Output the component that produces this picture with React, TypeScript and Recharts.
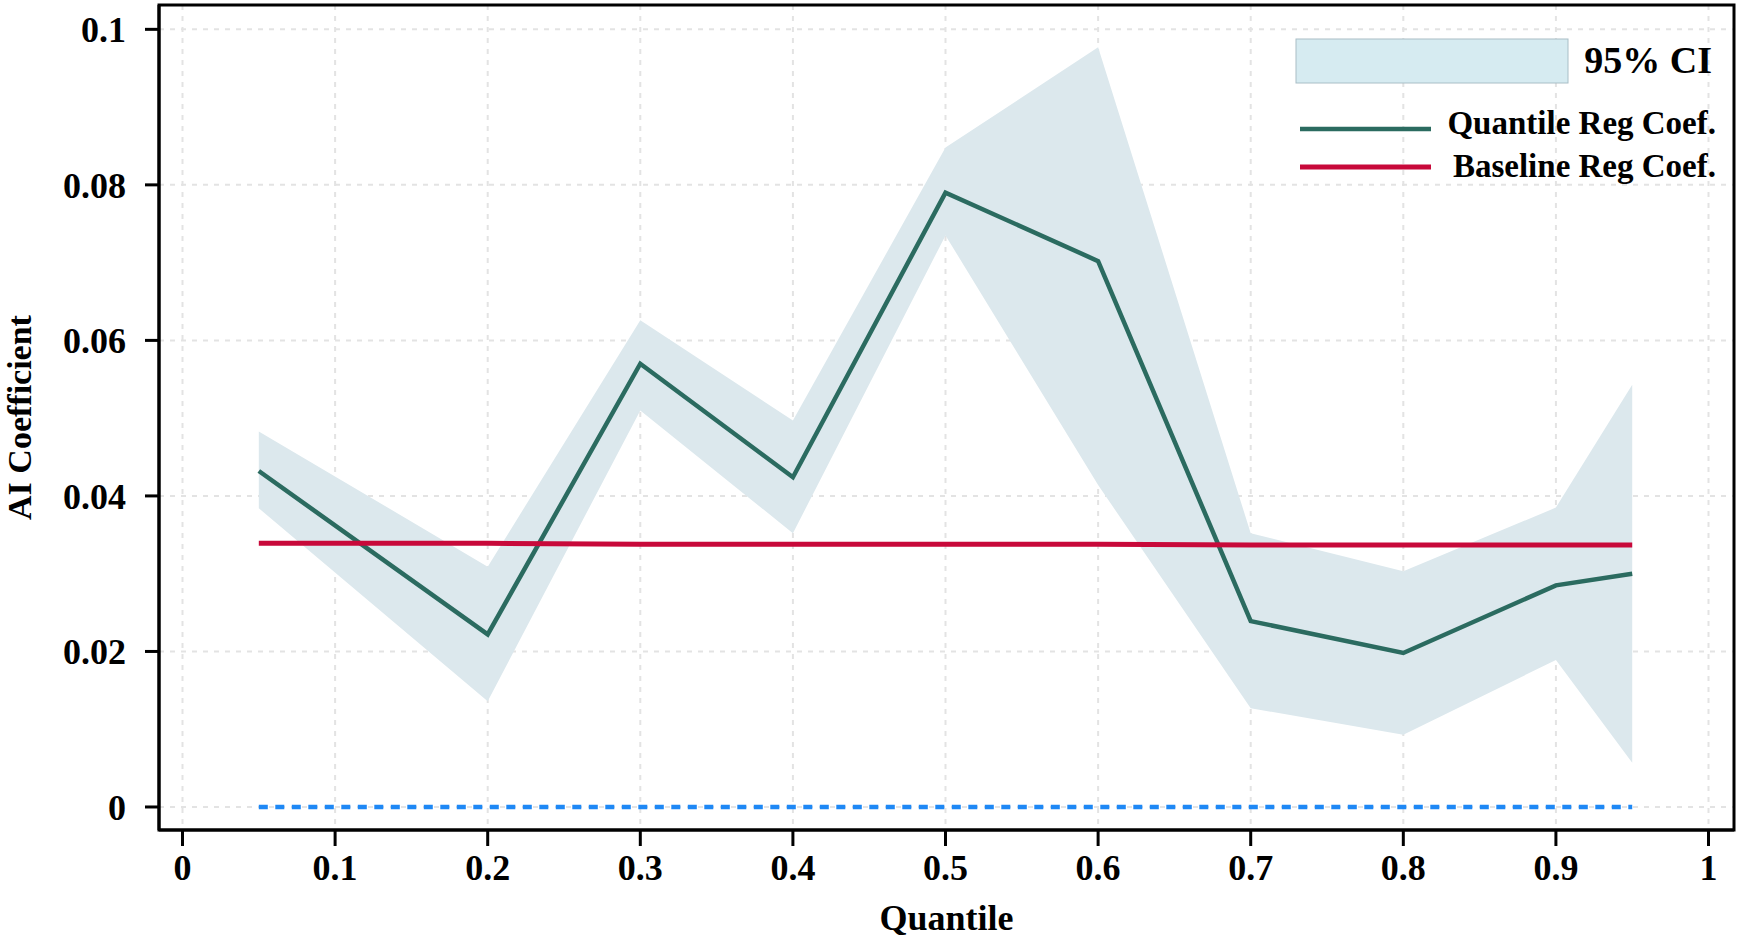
import React from 'react';
import {
  ComposedChart,
  Area,
  Line,
  XAxis,
  YAxis,
  CartesianGrid,
  Legend,
  ReferenceArea,
} from 'recharts';

const quantiles = [0.05, 0.2, 0.3, 0.4, 0.5, 0.6, 0.7, 0.8, 0.9, 0.95];
const quantileCoef = [0.0432, 0.0222, 0.057, 0.0424, 0.079, 0.0702, 0.0239, 0.0198, 0.0285, 0.03];
const ciUpper = [0.0483, 0.0309, 0.0626, 0.0497, 0.0848, 0.0977, 0.0352, 0.0303, 0.0385, 0.0543];
const ciLower = [0.0384, 0.0136, 0.051, 0.0352, 0.0735, 0.0414, 0.0127, 0.0093, 0.0189, 0.0057];
const baselineCoef = [0.0339, 0.0339, 0.0338, 0.0338, 0.0338, 0.0338, 0.0337, 0.0337, 0.0337, 0.0337];
const zeroRef = [0, 0, 0, 0, 0, 0, 0, 0, 0, 0];

const xTicks = [0, 0.1, 0.2, 0.3, 0.4, 0.5, 0.6, 0.7, 0.8, 0.9, 1];
const yTicks = [0, 0.02, 0.04, 0.06, 0.08, 0.1];
const xDomain: [number, number] = [-0.0154, 1.0167];
const yDomain: [number, number] = [-0.00296, 0.10313];

const data = quantiles.map((q, i) => ({
  q,
  coef: quantileCoef[i],
  ci: [ciLower[i], ciUpper[i]],
  base: baselineCoef[i],
  zero: zeroRef[i],
}));

const FONT = '"Liberation Serif", "Times New Roman", serif';
const TEAL = '#2b6b60';
const RED = '#c8093a';
const BLUE = '#1e88f5';

const tickStyle = { fill: '#000', fontSize: 36, fontWeight: 'bold' as const, fontFamily: FONT };

const renderLegend = () => (
  <svg width={460} height={160} style={{ fontFamily: FONT, fontWeight: 'bold' }}>
    <rect x={16} y={9} width={272} height={44} fill="#d6ebf1" stroke="#a9bec6" strokeWidth={1} />
    <text x={432} y={43} textAnchor="end" fontSize={38} fill="#000">95% CI</text>
    <line x1={20} x2={151} y1={99} y2={99} stroke={TEAL} strokeWidth={4.5} />
    <text x={436} y={104} textAnchor="end" fontSize={33} fill="#000">Quantile Reg Coef.</text>
    <line x1={20} x2={151} y1={137} y2={137} stroke={RED} strokeWidth={5} />
    <text x={436} y={147} textAnchor="end" fontSize={33} fill="#000">Baseline Reg Coef.</text>
  </svg>
);

const YTitle = (props: any) => {
  const vb = props.viewBox || { x: 0, y: 5, width: 159, height: 825 };
  const cx = 31;
  const cy = vb.y + vb.height / 2;
  return (
    <text
      x={cx}
      y={cy}
      transform={`rotate(-90, ${cx}, ${cy})`}
      textAnchor="middle"
      fontSize={34}
      fontWeight="bold"
      fontFamily={FONT}
      fill="#000"
    >
      AI Coefficient
    </text>
  );
};

const XTitle = (props: any) => {
  const vb = props.viewBox || { x: 159, y: 830, width: 1575, height: 114 };
  return (
    <text
      x={vb.x + vb.width / 2}
      y={vb.y + 100}
      textAnchor="middle"
      fontSize={36}
      fontWeight="bold"
      fontFamily={FONT}
      fill="#000"
    >
      Quantile
    </text>
  );
};

export default function App() {
  return (
    <div style={{ position: 'absolute', left: 0, top: 0, width: 1741, height: 944, background: '#fff' }}>
      <ComposedChart
        width={1741}
        height={944}
        data={data}
        margin={{ top: 5, right: 7, left: 0, bottom: 0 }}
      >
        <CartesianGrid stroke="#e3e3e3" strokeWidth={2} strokeDasharray="5 6" />
        <XAxis
          dataKey="q"
          type="number"
          domain={xDomain}
          ticks={xTicks}
          allowDataOverflow
          height={114}
          tickSize={16}
          tickMargin={8}
          tick={tickStyle}
          axisLine={{ stroke: '#000', strokeWidth: 3 }}
          tickLine={{ stroke: '#000', strokeWidth: 3 }}
          label={XTitle}
        />
        <YAxis
          type="number"
          domain={yDomain}
          ticks={yTicks}
          allowDataOverflow
          width={159}
          tickSize={14}
          tickMargin={19}
          tick={tickStyle}
          axisLine={{ stroke: '#000', strokeWidth: 3 }}
          tickLine={{ stroke: '#000', strokeWidth: 3 }}
          label={YTitle}
        />
        <Area
          dataKey="ci"
          type="linear"
          fill="#dce8ed"
          fillOpacity={1}
          stroke="none"
          isAnimationActive={false}
          activeDot={false}
        />
        <Line
          dataKey="zero"
          type="linear"
          stroke={BLUE}
          strokeWidth={4.5}
          strokeDasharray="9 7.5"
          dot={false}
          activeDot={false}
          isAnimationActive={false}
        />
        <Line
          dataKey="coef"
          type="linear"
          stroke={TEAL}
          strokeWidth={4.5}
          dot={false}
          activeDot={false}
          isAnimationActive={false}
        />
        <Line
          dataKey="base"
          type="linear"
          stroke={RED}
          strokeWidth={5}
          dot={false}
          activeDot={false}
          isAnimationActive={false}
        />
        <ReferenceArea
          x1={xDomain[0]}
          x2={xDomain[1]}
          y1={yDomain[0]}
          y2={yDomain[1]}
          fill="none"
          fillOpacity={0}
          stroke="#000"
          strokeWidth={3}
          ifOverflow="visible"
        />
        <Legend
          layout="vertical"
          align="center"
          verticalAlign="middle"
          content={renderLegend}
          wrapperStyle={{ left: 1280, top: 30, width: 460, height: 160 }}
        />
      </ComposedChart>
    </div>
  );
}
